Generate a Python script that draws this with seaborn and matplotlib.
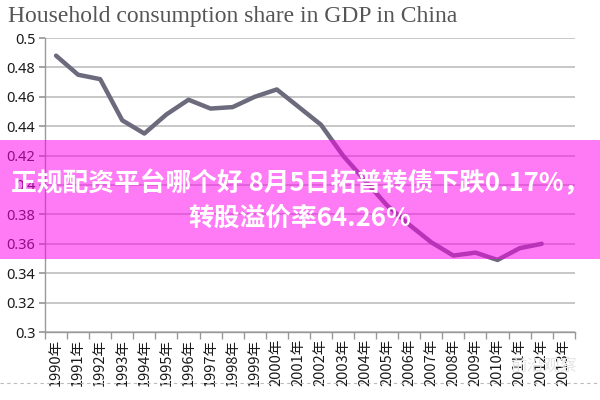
import matplotlib
matplotlib.use("Agg")
import matplotlib.pyplot as plt
import seaborn as sns
import pandas as pd
from matplotlib.patches import Rectangle

years = list(range(1990, 2014))
tick_labels = [f"{y}年" for y in years]
share_years = list(range(1990, 2013))
share = [0.488, 0.475, 0.472, 0.444, 0.435, 0.448, 0.458, 0.452, 0.453, 0.460,
         0.465, 0.453, 0.441, 0.420, 0.403, 0.386, 0.373, 0.361, 0.352, 0.354,
         0.349, 0.357, 0.360]
y_ticks = [0.3, 0.32, 0.34, 0.36, 0.38, 0.4, 0.42, 0.44, 0.46, 0.48, 0.5]
y_tick_labels = ["0.3", "0.32", "0.34", "0.36", "0.38", "0.4", "0.42", "0.44", "0.46", "0.48", "0.5"]
title = "Household consumption share in GDP in China"
overlay_text = "正规配资平台哪个好 8月5日拓普转债下跌0.17%，\n转股溢价率64.26%"

sns.set_theme(style="white")
plt.rcParams['font.family'] = ['Noto Sans', 'Noto Sans CJK SC', 'DejaVu Sans']

df = pd.DataFrame({"pos": [years.index(y) for y in share_years], "share": share})

fig = plt.figure(figsize=(6, 4), dpi=100)
ax = fig.add_axes([0.075, 0.17, 0.883, 0.735])
sns.lineplot(data=df, x="pos", y="share", ax=ax, color="#6b6b7d", linewidth=3.2)

ax.set_xlim(-0.5, len(years) - 0.5)
ax.set_ylim(0.3, 0.5)
ax.set_yticks(y_ticks)
ax.set_yticklabels(y_tick_labels, fontsize=10.5, color="#1a1a1a")
ax.yaxis.grid(True, color="#b8b8b8", linewidth=1.1)
ax.set_axisbelow(True)
ax.set_xticks(range(len(years)))
ax.set_xticklabels(tick_labels, rotation=90, fontsize=10.5,
                   family=['Noto Sans CJK SC', 'DejaVu Sans'], color="#1a1a1a")
ax.tick_params(axis='x', which='major', length=0, pad=5)
ax.set_xticks([i - 0.5 for i in range(len(years) + 1)], minor=True)
ax.tick_params(axis='x', which='minor', length=5, color="#999999", width=1, direction='out', bottom=True)
ax.tick_params(axis='y', length=4, color="#999999", left=True, pad=3)
ax.set_xlabel("")
ax.set_ylabel("")
for s in ["top", "right"]:
    ax.spines[s].set_visible(False)
for s in ["left", "bottom"]:
    ax.spines[s].set_color("#999999")
    ax.spines[s].set_linewidth(1)

fig.text(0.013, 0.958, title, fontsize=17, color="#555555",
         family=['Liberation Serif', 'DejaVu Serif'], ha='left', va='center')

# dashed line near bottom
fig.add_artist(plt.Line2D([0.0, 1.0], [1 - 383 / 400, 1 - 383 / 400], color="#bbbbbb",
                          linewidth=0.8, linestyle=(0, (3, 3)), transform=fig.transFigure))
fig.text(0.905, 1 - 366 / 400, "前沿观察", fontsize=12, color="#e4e4e4",
         family=['Noto Sans CJK SC'], ha='center', va='center', zorder=0)

# overlay band
fig.add_artist(Rectangle((0, 1 - 259 / 400), 1, 119 / 400, transform=fig.transFigure,
                         facecolor=(1.0, 0.0, 0.93), alpha=0.52, edgecolor='none', zorder=10))
fig.text(0.5, 1 - 201 / 400, overlay_text, fontsize=18.5, color="white", fontweight='bold',
         family=['Noto Sans CJK SC', 'DejaVu Sans'], ha='center', va='center',
         linespacing=1.35, zorder=11)

fig.savefig("out.png", dpi=100)
